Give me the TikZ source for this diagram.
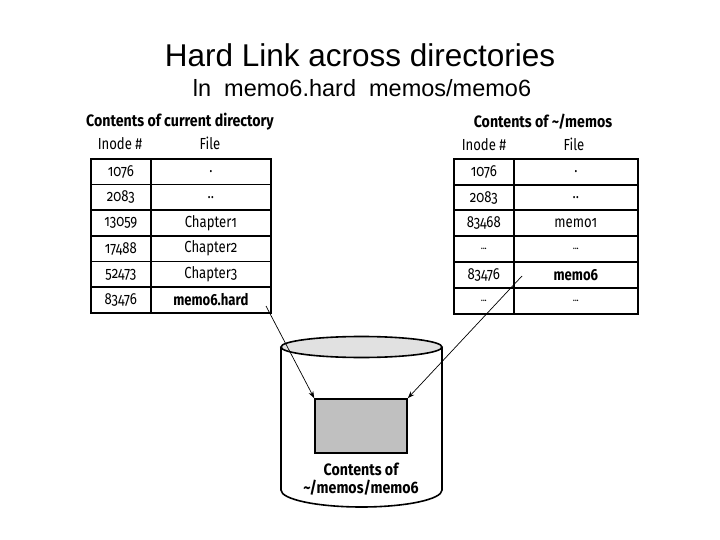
\documentclass[tikz,border=0pt]{standalone}
\usepackage{fontspec}
\setmainfont{Liberation Sans}
\newfontfamily\tabfont[Numbers=OldStyle,FakeStretch=0.82]{Fira Sans}
\newfontfamily\hdrfont[Numbers=OldStyle,FakeStretch=0.86]{Fira Sans}
\usetikzlibrary{arrows.meta}
\definecolor{topgray}{RGB}{225,225,225}
\definecolor{boxgray}{RGB}{192,192,192}
\newcommand\mydots{{\fontsize{11}{12}\selectfont .\kern-0.3pt.\kern-0.3pt.}}
\begin{document}
\begin{tikzpicture}[x=1pt,y=-1pt,
  cell/.style={draw, line width=1.7pt, minimum height=25.67pt, inner sep=0pt, anchor=north west,
    font=\tabfont\fontsize{16}{18}\selectfont},
  hdr/.style={font=\hdrfont\fontsize{16.5}{18}\selectfont\bfseries, anchor=base},
  colh/.style={font=\tabfont\fontsize{16}{18}\selectfont, anchor=base},
  link/.style={-{Stealth[length=7pt,width=5pt]}, line width=0.7pt}]
\useasboundingbox (0,0) rectangle (720,540);
% titles
\node[anchor=base, font=\fontsize{31.5}{34}\selectfont] (title) at (360,67) {Hard Link across directories};
\node[anchor=base, font=\fontsize{23.5}{26}\selectfont] (sub) at (362,97) {ln\ \ memo6.hard\ \ memos/memo6};
% left table
\node[hdr] (lh) at (180,127) {Contents of current directory};
\node[colh] (lhi) at (120,150) {Inode \#};
\node[colh] (lhf) at (210,150) {File};
\foreach \a/\b [count=\i] in {1076/., 2083/.., 13059/Chapter1, 17488/Chapter2, 52473/Chapter3, 83476/\textbf{memo6.hard}} {
  \node[cell, minimum width=60pt] (la\i) at (90,{158+(\i-1)*25.67}) {\a};
  \node[cell, minimum width=120pt] (lb\i) at (150,{158+(\i-1)*25.67}) {\b};
}
% right table
\node[hdr] (rh) at (543,128) {Contents of \textasciitilde/memos};
\node[colh] (rhi) at (484,151) {Inode \#};
\node[colh] (rhf) at (574,151) {File};
\foreach \a/\b [count=\i] in {1076/., 2083/.., 83468/memo1, \mydots/\mydots, 83476/\textbf{memo6}, \mydots/\mydots} {
  \node[cell, minimum width=60pt] (ra\i) at (453,{158+(\i-1)*25.83}) {\a};
  \node[cell, minimum width=124pt] (rb\i) at (513,{158+(\i-1)*25.83}) {\b};
}
% cylinder
\draw[line width=1.6pt] (281,347) -- (281,490) arc[start angle=180, end angle=360, x radius=80.5pt, y radius=17pt] -- (442,347);
\draw[line width=1.6pt, fill=topgray] (361.5,347) ellipse [x radius=80.5pt, y radius=10.5pt];
\node[draw, line width=1.6pt, fill=boxgray, minimum width=92pt, minimum height=54pt, inner sep=0pt] (content) at (361,426) {};
\node[font=\hdrfont\fontsize{16.5}{18.5}\selectfont\bfseries, align=center] (lbl) at (361,479) {Contents of\\\textasciitilde/memos/memo6};
% links
\coordinate (sl) at (266,306);
\coordinate (sr) at (522,276);
\draw[link] (sl) -- (content.north west);
\draw[link] (sr) -- (content.north east);
\end{tikzpicture}
\end{document}
